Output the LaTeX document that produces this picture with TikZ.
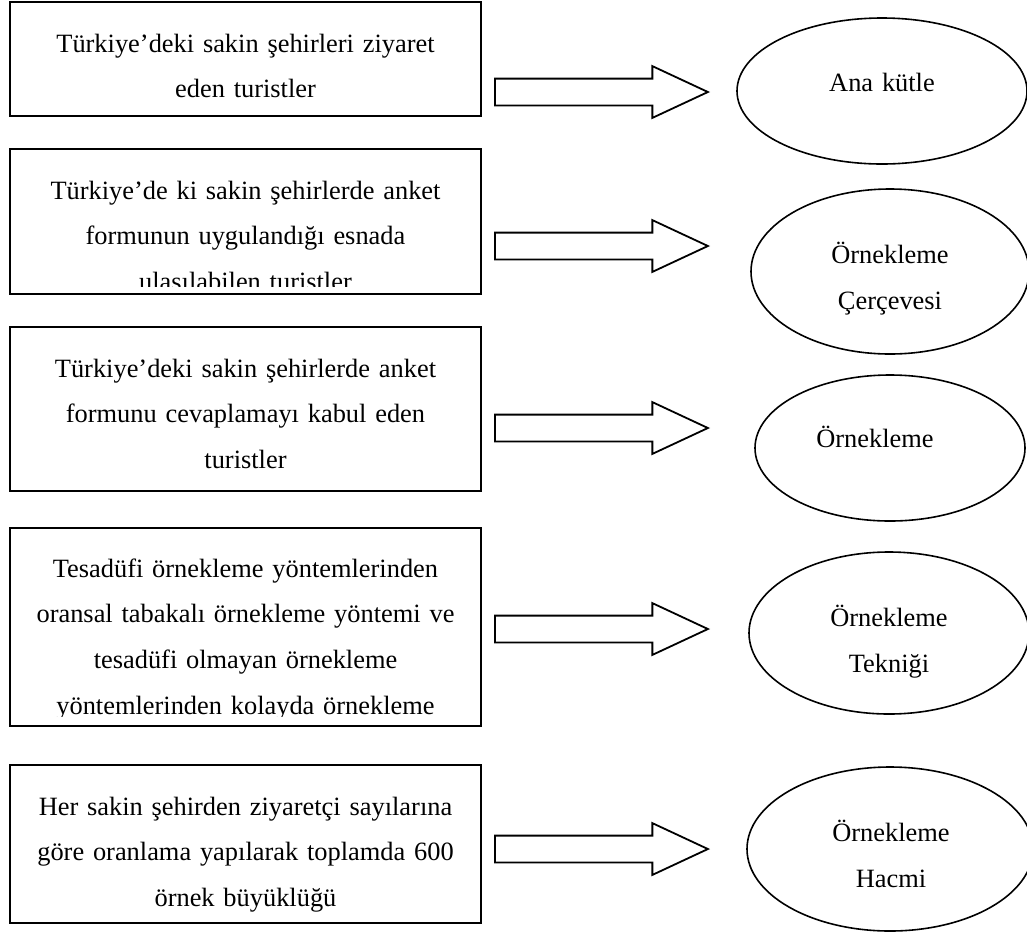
\documentclass[tikz,border=0pt]{standalone}
\usepackage{fontspec}
\setmainfont{Liberation Serif}
\usetikzlibrary{shapes.geometric, shapes.arrows}
\tikzset{
  srcbox/.style={rectangle, draw=black, line width=1pt, minimum width=235.5pt, inner sep=0pt},
  popell/.style={ellipse, draw=black, line width=0.8pt, inner sep=0pt},
  lbl/.style={font=\fontsize{13.2pt}{23.2pt}\selectfont, align=center, inner sep=0pt, anchor=base, text width=120pt},
  boxtxt/.style={lbl, text width=235pt, font=\fontsize{13.2pt}{22.85pt}\selectfont},
  blockarr/.style={single arrow, draw=black, line width=0.9pt, inner sep=6.25pt,
                   single arrow head extend=6.25pt, single arrow tip angle=50,
                   minimum height=106.5pt, minimum width=25pt, anchor=tail},
}
\begin{document}
\begin{tikzpicture}[x=0.5pt, y=-0.5pt]
  \useasboundingbox (0,0) rectangle (1027,933);
  % left column: what is studied
  \node[srcbox, minimum height=57pt] (b1) at (245.5,59) {};
  \node[srcbox, minimum height=72.5pt] (b2) at (245.5,221.5) {};
  \node[srcbox, minimum height=82pt] (b3) at (245.5,409) {};
  \node[srcbox, minimum height=99pt] (b4) at (245.5,627) {};
  \node[srcbox, minimum height=79pt] (b5) at (245.5,844) {};
  \node[boxtxt] (t1) at ([yshift=-25.5pt]b1.north) {Türkiye’deki sakin şehirleri ziyaret\\eden turistler};
  \begin{scope}
    \clip (b2.north west) rectangle ([yshift=4.5pt]b2.south east);
    \node[boxtxt] (t2) at ([yshift=-25.5pt]b2.north) {Türkiye’de ki sakin şehirlerde anket\\formunun uygulandığı esnada\\ulaşılabilen turistler};
  \end{scope}
  \node[boxtxt] (t3) at ([yshift=-25.5pt]b3.north) {Türkiye’deki sakin şehirlerde anket\\formunu cevaplamayı kabul eden\\turistler};
  \begin{scope}
    \clip (b4.north west) rectangle ([yshift=5.5pt]b4.south east);
    \node[boxtxt] (t4) at ([yshift=-25pt]b4.north) {Tesadüfi örnekleme yöntemlerinden\\oransal tabakalı örnekleme yöntemi ve\\tesadüfi olmayan örnekleme\\yöntemlerinden kolayda örnekleme};
  \end{scope}
  \node[boxtxt] (t5) at ([yshift=-25.5pt]b5.north) {Her sakin şehirden ziyaretçi sayılarına\\göre oranlama yapılarak toplamda 600\\örnek büyüklüğü};
  % block arrows
  \node[blockarr] (a1) at (494,92) {};
  \node[blockarr] (a2) at (494,246) {};
  \node[blockarr] (a3) at (494,428) {};
  \node[blockarr] (a4) at (494,629) {};
  \node[blockarr] (a5) at (494,849) {};
  % right column: sampling terms
  \node[popell, minimum width=145pt, minimum height=73pt] (e1) at (882,91) {};
  \node[popell, minimum width=139pt, minimum height=82.5pt] (e2) at (890,271.5) {};
  \node[popell, minimum width=135pt, minimum height=73pt] (e3) at (890,448) {};
  \node[popell, minimum width=140pt, minimum height=81pt] (e4) at (889,633) {};
  \node[popell, minimum width=143pt, minimum height=82pt] (e5) at (890,849) {};
  \node[lbl] (l1) at (882,91) {Ana kütle};
  \node[lbl] (l2) at (890,263) {Örnekleme\\Çerçevesi};
  \node[lbl] (l3) at (875,447) {Örnekleme};
  \node[lbl] (l4) at (889,626) {Örnekleme\\Tekniği};
  \node[lbl] (l5) at (891,841) {Örnekleme\\Hacmi};
\end{tikzpicture}
\end{document}
